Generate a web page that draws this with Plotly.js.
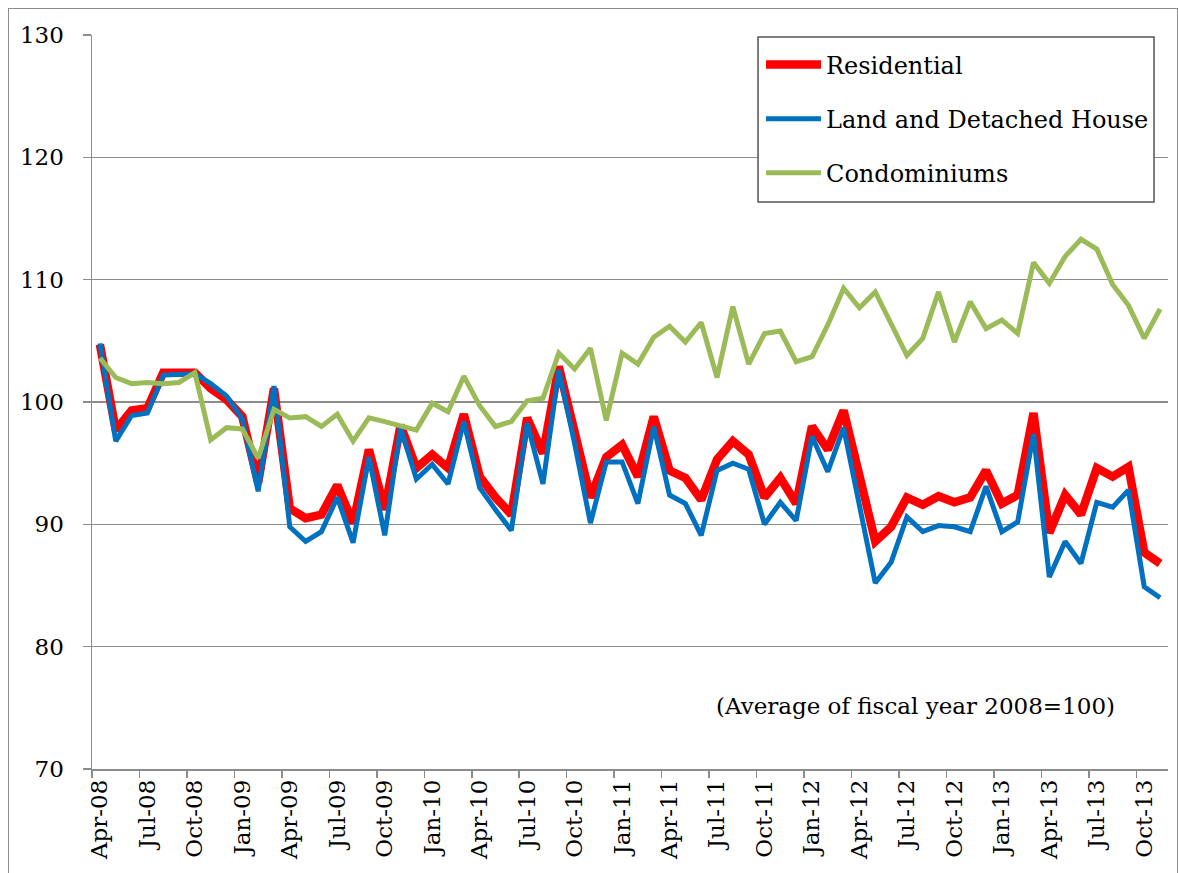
<!DOCTYPE html>
<html>
<head>
<meta charset="utf-8">
<script src="https://cdn.plot.ly/plotly-3.0.1.min.js"></script>
<style>
  html, body { margin: 0; padding: 0; background: #fff; }
  #frame { position: absolute; left: 8px; top: 8px; width: 1170px; height: 880px; border: 1.5px solid #8c8c8c; box-sizing: border-box; pointer-events: none; }
  #chart { position: absolute; left: 0; top: 0; width: 1178px; height: 873px; }
</style>
</head>
<body>
<div id="chart"></div>
<div id="frame"></div>
<script>
// Monthly categories Apr-08 .. Nov-13
const monthNames = ["Jan","Feb","Mar","Apr","May","Jun","Jul","Aug","Sep","Oct","Nov","Dec"];
const months = [];
for (let k = 0; k < 68; k++) {
  const m = (3 + k) % 12;
  const y = 8 + Math.floor((3 + k) / 12);
  months.push(monthNames[m] + "-" + String(y).padStart(2, "0"));
}

const residential = [
  104.7, 97.7, 99.3, 99.5, 102.4, 102.4, 102.4, 101.1, 100.2, 98.8, 93.4, 101.1,
  91.3, 90.5, 90.8, 93.2, 90.1, 96.1, 91.2, 98.1, 94.6, 95.7, 94.6, 99.0,
  93.9, 92.2, 90.8, 98.7, 95.8, 102.9, 97.2, 92.2, 95.5, 96.5, 93.9, 98.8,
  94.4, 93.8, 92.0, 95.3, 96.8, 95.7, 92.2, 93.8, 91.7, 98.0, 96.1, 99.3,
  94.0, 88.6, 89.8, 92.2, 91.6, 92.3, 91.8, 92.2, 94.4, 91.7, 92.4, 99.1,
  89.3, 92.4, 90.8, 94.6, 93.9, 94.7, 87.7, 86.8
];
const landDetached = [
  104.8, 96.8, 98.9, 99.1, 102.2, 102.2, 102.3, 101.5, 100.5, 98.6, 92.7, 101.3,
  89.8, 88.6, 89.4, 92.2, 88.5, 95.5, 89.1, 97.9, 93.7, 94.9, 93.3, 98.4,
  93.0, 91.2, 89.5, 98.3, 93.3, 102.6, 96.6, 90.1, 95.1, 95.1, 91.7, 98.0,
  92.4, 91.7, 89.1, 94.4, 95.0, 94.5, 90.0, 91.8, 90.3, 97.2, 94.3, 97.9,
  91.6, 85.2, 86.9, 90.6, 89.4, 89.9, 89.8, 89.4, 93.1, 89.4, 90.2, 97.4,
  85.7, 88.6, 86.8, 91.8, 91.4, 92.8, 84.9, 84.0
];
const condominiums = [
  103.6, 102.0, 101.5, 101.6, 101.5, 101.6, 102.4, 96.9, 97.9, 97.8, 95.4, 99.4,
  98.7, 98.8, 98.0, 99.0, 96.8, 98.7, 98.4, 98.0, 97.7, 99.9, 99.2, 102.1,
  99.7, 98.0, 98.4, 100.1, 100.3, 104.0, 102.7, 104.4, 98.5, 104.0, 103.1, 105.3,
  106.2, 104.9, 106.5, 102.0, 107.8, 103.1, 105.6, 105.8, 103.3, 103.7, 106.3, 109.3,
  107.7, 109.0, 106.4, 103.8, 105.2, 109.0, 104.9, 108.2, 106.0, 106.7, 105.6, 111.4,
  109.7, 111.9, 113.3, 112.5, 109.6, 107.9, 105.2, 107.6
];
const yTicks = [70, 80, 90, 100, 110, 120, 130];

const serif = "DejaVu Serif, Liberation Serif, serif";

const traces = [
  { x: months, y: residential, name: "Residential", type: "scatter", mode: "lines",
    line: { color: "#FF0000", width: 8.5 }, legendgroup: "a" },
  { x: months, y: landDetached, name: "Land and Detached House", type: "scatter", mode: "lines",
    line: { color: "#0070C0", width: 5 }, legendgroup: "b" },
  { x: months, y: condominiums, name: "Condominiums", type: "scatter", mode: "lines",
    line: { color: "#9BBB59", width: 5 }, legendgroup: "c" }
];

const layout = {
  width: 1178, height: 873,
  margin: { l: 92, r: 10, t: 35, b: 104 },
  paper_bgcolor: "rgba(0,0,0,0)",
  plot_bgcolor: "#fff",
  font: { family: serif, color: "#000", size: 22 },
  showlegend: true,
  xaxis: {
    type: "category",
    tickmode: "linear", tick0: 0, dtick: 3,
    tickson: "boundaries",
    ticks: "outside", ticklen: 7, tickcolor: "#8c8c8c", tickwidth: 1.5,
    tickangle: -90,
    tickfont: { family: serif, size: 23 },
    showgrid: false,
    showline: true, linecolor: "#8c8c8c", linewidth: 1.5,
    range: [-0.5, 67.5],
    fixedrange: true
  },
  yaxis: {
    range: [70, 130],
    tickvals: yTicks,
    ticks: "outside", ticklen: 8, tickcolor: "#8c8c8c", tickwidth: 1.5,
    ticklabelstandoff: 14,
    tickfont: { family: serif, size: 23 },
    showgrid: true, gridcolor: "#8c8c8c", gridwidth: 1.5,
    showline: true, linecolor: "#8c8c8c", linewidth: 1.5,
    zeroline: false,
    fixedrange: true
  },
  legend: {
    x: 0.987, xanchor: "right", y: 0.990, yanchor: "top",
    bgcolor: "rgba(0,0,0,0)", borderwidth: 0,
    font: { family: serif, size: 24 },
    traceorder: "grouped", tracegroupgap: 20,
    itemwidth: 55
  },
  shapes: [{
    type: "rect", xref: "paper", yref: "paper",
    x0: 0.619, x1: 0.987, y0: 0.7725, y1: 0.9973,
    fillcolor: "#fff", line: { color: "#555", width: 1.5 }, layer: "above"
  }],
  annotations: [{
    text: "(Average of fiscal year 2008=100)",
    xref: "paper", yref: "paper", x: 0.765, y: 0.086,
    xanchor: "center", yanchor: "middle", showarrow: false,
    font: { family: serif, size: 23 }
  }]
};

Plotly.newPlot("chart", traces, layout, { displayModeBar: false, staticPlot: true });
</script>
</body>
</html>
